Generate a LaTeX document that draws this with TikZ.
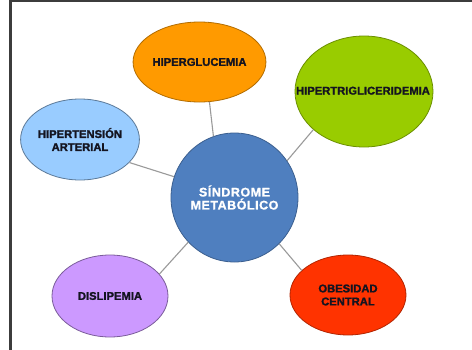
\documentclass[tikz,border=0pt]{standalone}
\usepackage{fontspec}
\setmainfont{Liberation Sans}[BoldFeatures={FakeBold=1.6}]
\newfontfamily\centerfont{Liberation Sans Bold}[FakeBold=1.2,LetterSpace=4]
\usetikzlibrary{shapes.geometric}
\newdimen\px \px=0.75pt
\definecolor{cOrange}{HTML}{FF9A00}
\definecolor{cGreen}{HTML}{99CC00}
\definecolor{cSky}{HTML}{99CCFF}
\definecolor{cBlue}{HTML}{4F7FBF}
\definecolor{cViolet}{HTML}{CC99FF}
\definecolor{cRed}{HTML}{FF3300}
\definecolor{cFrame}{HTML}{3C3C3C}
\definecolor{cLink}{HTML}{9A9A9A}
\definecolor{cText}{HTML}{141420}
\tikzset{
  bubble/.style={ellipse, inner sep=0pt, align=center, line width=0.8\px,
    font=\fontsize{8.4}{9.75}\selectfont\bfseries, text=cText},
  link/.style={draw=cLink, line width=1.1\px},
}
\begin{document}
\begin{tikzpicture}[x=0.75pt,y=-0.75pt]
\useasboundingbox (0,0) rectangle (472,350);
\fill[white] (0,0) rectangle (472,350);
\draw[cFrame, line width=2.2\px] (10.5,351) -- (10.5,1.1) -- (473,1.1);
\node[bubble, fill=cBlue, draw=cBlue!75!black, minimum width=127\px, minimum height=129\px,
  text=white, font=\fontsize{9.4}{9.75}\selectfont\centerfont] (c) at (234.5,197.5) {SÍNDROME\\METABÓLICO};
\node[bubble, fill=cOrange, draw=cOrange!70!black, minimum width=115\px, minimum height=80\px] (hg) at (199.5,62) {HIPERGLUCEMIA};
\node[bubble, fill=cGreen, draw=cGreen!70!black, minimum width=138\px, minimum height=111\px] (ht) at (364,91.5) {};
\node[font=\fontsize{8.4}{9.75}\selectfont\bfseries, text=cText, inner sep=0pt] (htl) at (363,90.7) {HIPERTRIGLICERIDEMIA};
\node[bubble, fill=cSky, draw=cSky!60!black, minimum width=116\px, minimum height=81\px] (hta) at (80,139.5) {HIPERTENSIÓN\\ARTERIAL};
\node[bubble, fill=cViolet, draw=cViolet!60!black, minimum width=116\px, minimum height=82\px] (dis) at (110,296) {DISLIPEMIA};
\node[bubble, fill=cRed, draw=cRed!70!black, minimum width=116\px, minimum height=80\px] (ob) at (348,295) {OBESIDAD\\CENTRAL};
\draw[link] (c.109.8) -- (hg.-76.6);
\draw[link] (c.35.7) -- (ht.217.2);
\draw[link] (c.161.6) -- (hta.-25.2);
\draw[link] (c.224.4) -- (dis.24.7);
\draw[link] (c.-46.8) -- (ob.152.5);
\end{tikzpicture}
\end{document}
